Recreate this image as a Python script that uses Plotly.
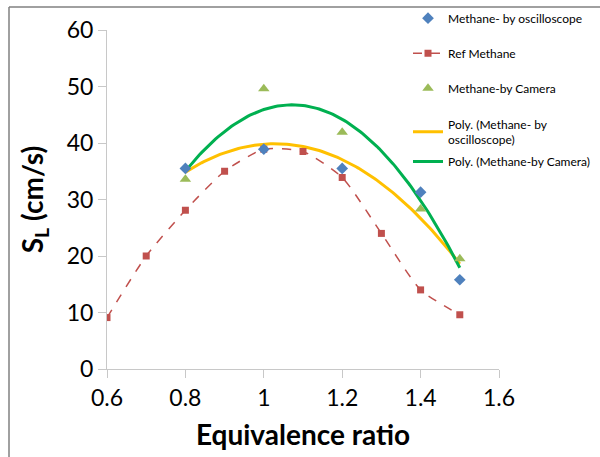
import numpy as np
import plotly.graph_objects as go

# Data
phi_osc = [0.8, 1.0, 1.2, 1.4, 1.5]
sl_osc = [35.5, 38.9, 35.5, 31.3, 15.8]

phi_ref = [0.6, 0.7, 0.8, 0.9, 1.0, 1.1, 1.2, 1.3, 1.4, 1.5]
sl_ref = [9.1, 20.0, 28.1, 35.0, 38.9, 38.5, 33.9, 24.0, 14.0, 9.6]

phi_cam = [0.8, 1.0, 1.2, 1.4, 1.5]
sl_cam = [33.6, 49.6, 41.9, 28.3, 19.5]

x_ticks = [0.6, 0.8, 1.0, 1.2, 1.4, 1.6]
x_tick_labels = ["0.6", "0.8", "1", "1.2", "1.4", "1.6"]
y_ticks = [0, 10, 20, 30, 40, 50, 60]

# Polynomial (2nd order) trendlines, like Excel's "Poly." trendline
def poly_trend(x, y):
    c = np.polyfit(x, y, 2)
    xs = np.linspace(min(x), max(x), 120)
    return xs, np.polyval(c, xs)

xo, yo = poly_trend(phi_osc, sl_osc)
xc, yc = poly_trend(phi_cam, sl_cam)

FONT = "Lato"

fig = go.Figure()
fig.add_trace(go.Scatter(x=xo, y=yo, mode="lines", name="Poly. (Methane- by<br>oscilloscope)",
                         line=dict(color="#ffc000", width=3), legend="legend2",
                         legendgroup="g4", legendrank=4))
fig.add_trace(go.Scatter(x=xc, y=yc, mode="lines", name="Poly. (Methane-by Camera)",
                         line=dict(color="#00b050", width=3), legend="legend2",
                         legendgroup="g5", legendrank=5))
fig.add_trace(go.Scatter(x=phi_ref, y=sl_ref, mode="lines+markers", name="Ref Methane",
                         line=dict(color="#c0504d", width=1.5, dash="dash", shape="spline", smoothing=0.6),
                         marker=dict(symbol="square", size=7, color="#c0504d"), legend="legend",
                         legendgroup="g2", legendrank=2))
fig.add_trace(go.Scatter(x=phi_osc, y=sl_osc, mode="markers", name="Methane- by oscilloscope",
                         marker=dict(symbol="diamond", size=9, color="#4f81bd"), legend="legend",
                         legendgroup="g1", legendrank=1))
fig.add_trace(go.Scatter(x=phi_cam, y=sl_cam, mode="markers", name="Methane-by Camera",
                         marker=dict(symbol="triangle-up", size=10, color="#9bbb59"), legend="legend",
                         legendgroup="g3", legendrank=3))

axis_col = "#c8c8c8"
fig.update_layout(
    width=600, height=457,
    margin=dict(l=107, r=101, t=30, b=88, autoexpand=False),
    plot_bgcolor="white", paper_bgcolor="white",
    font=dict(family=FONT, color="#000000"),
    xaxis=dict(range=[0.6, 1.6], tickvals=x_ticks, ticktext=x_tick_labels,
               showgrid=False, zeroline=False, showline=True, linecolor=axis_col, linewidth=1,
               ticks="outside", ticklen=8, tickcolor=axis_col,
               tickfont=dict(size=23, family=FONT),
               title=dict(text="<b>Equivalence ratio</b>", font=dict(size=28, family=FONT), standoff=15)),
    yaxis=dict(range=[0, 60], tickvals=y_ticks,
               showgrid=False, zeroline=False, showline=True, linecolor=axis_col, linewidth=1,
               ticks="outside", ticklen=8, tickcolor=axis_col,
               tickfont=dict(size=23, family=FONT),
               title=dict(text="<b>S<sub>L</sub> (cm/s)</b>", font=dict(size=28, family=FONT), standoff=14)),
    legend=dict(xref="container", yref="container", x=0.68, y=0.992, xanchor="left", yanchor="top",
                traceorder="grouped", tracegroupgap=16, itemwidth=30,
                font=dict(size=12, family=FONT), bgcolor="rgba(0,0,0,0)"),
    legend2=dict(xref="container", yref="container", x=0.68, y=0.76, xanchor="left", yanchor="top",
                 traceorder="grouped", tracegroupgap=3, itemwidth=30,
                 font=dict(size=12, family=FONT), bgcolor="rgba(0,0,0,0)"),
    showlegend=True,
)

# Outer frame lines (top and left edge of the picture)
fig.add_shape(type="line", xref="paper", yref="paper", x0=-0.25, x1=1.3, y0=1.0678, y1=1.0678,
              line=dict(color="#808080", width=1.5))
fig.add_shape(type="line", xref="paper", yref="paper", x0=-0.25, x1=-0.25, y0=1.0678, y1=-0.3,
              line=dict(color="#808080", width=1.5))

fig.write_html("out.html")
